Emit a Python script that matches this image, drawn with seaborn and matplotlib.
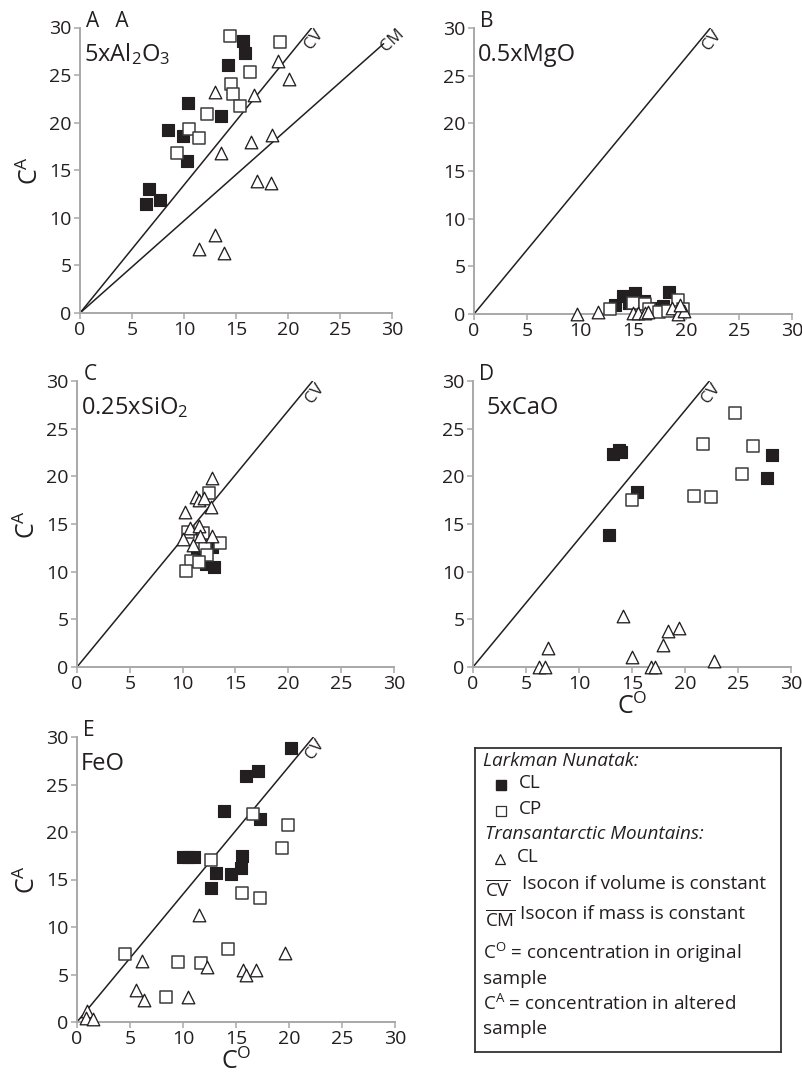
import numpy as np
import pandas as pd
import matplotlib
matplotlib.use("Agg")
import matplotlib.pyplot as plt
import seaborn as sns

# --- DATA ---
# Panel A : 5xAl2O3
A_LN_CL_x = [6.3, 6.6, 7.7, 8.5, 9.9, 10.4, 10.3, 13.6, 14.2, 15.7, 15.9]
A_LN_CL_y = [11.5, 13.0, 11.9, 19.2, 18.6, 22.1, 16.0, 20.7, 26.1, 28.6, 27.3]
A_LN_CP_x = [14.4, 19.2, 16.3, 14.5, 14.7, 15.4, 12.2, 10.5, 11.4, 9.3]
A_LN_CP_y = [29.1, 28.5, 25.3, 24.1, 23.0, 21.8, 20.9, 19.3, 18.4, 16.8]
A_TAM_CL_x = [13.0, 19.0, 20.1, 16.7, 13.6, 16.4, 18.5, 17.0, 18.4, 13.0, 11.4, 13.8]
A_TAM_CL_y = [23.2, 26.5, 24.6, 22.9, 16.8, 18.0, 18.7, 13.9, 13.7, 8.2, 6.75, 6.3]

# Panel B : 0.5xMgO
B_LN_CL_x = [13.3, 14.1, 14.6, 15.2, 16.0, 16.6, 17.8, 18.4]
B_LN_CL_y = [0.9, 1.9, 1.2, 2.2, 1.4, 0.6, 0.8, 2.3]
B_LN_CP_x = [12.8, 15.0, 16.1, 16.5, 17.5, 18.3, 19.2, 19.7]
B_LN_CP_y = [0.5, 1.2, 1.1, 0.5, 0.25, 0.3, 1.5, 0.5]
B_TAM_CL_x = [9.7, 11.7, 15.0, 15.5, 16.1, 16.4, 18.7, 19.2, 19.8, 19.4]
B_TAM_CL_y = [0.0, 0.2, 0.1, 0.1, 0.1, 0.2, 0.6, 0.0, 0.3, 0.9]

# Panel C : 0.25xSiO2
C_LN_CL_x = [11.4, 12.2, 13.0, 12.8, 12.0]
C_LN_CL_y = [11.9, 10.8, 10.5, 12.6, 11.4]
C_LN_CP_x = [12.5, 10.5, 11.9, 13.5, 12.15, 12.3, 10.75, 11.5, 10.3]
C_LN_CP_y = [18.25, 14.2, 14.1, 13.0, 12.65, 11.7, 11.1, 11.0, 10.05]
C_TAM_CL_x = [12.75, 11.3, 11.5, 12.0, 12.7, 10.2, 10.7, 11.5, 10.0, 11.6, 12.75, 10.95]
C_TAM_CL_y = [19.8, 17.8, 17.5, 17.7, 16.8, 16.3, 14.6, 14.8, 13.4, 13.7, 13.7, 12.8]

# Panel D : 5xCaO
D_LN_CL_x = [13.2, 13.75, 14.0, 15.5, 12.8, 28.2, 27.7]
D_LN_CL_y = [22.35, 22.8, 22.6, 18.4, 13.8, 22.2, 19.8]
D_LN_CP_x = [24.7, 21.7, 26.4, 25.35, 20.85, 22.5, 15.0]
D_LN_CP_y = [26.6, 23.4, 23.2, 20.25, 17.96, 17.8, 17.5]
D_TAM_CL_x = [14.15, 7.05, 6.2, 6.75, 15.0, 16.8, 17.2, 17.9, 18.4, 19.4, 22.7]
D_TAM_CL_y = [5.3, 1.95, 0.0, 0.0, 1.1, 0.0, 0.0, 2.35, 3.75, 4.1, 0.6]

# Panel E : FeO
E_LN_CL_x = [20.2, 15.9, 17.1, 13.85, 17.3, 10.0, 10.5, 11.0, 15.6, 15.5, 13.15, 14.5, 12.6]
E_LN_CL_y = [28.8, 25.9, 26.4, 22.25, 21.4, 17.4, 17.4, 17.4, 17.5, 16.25, 15.7, 15.6, 14.1]
E_LN_CP_x = [16.65, 19.9, 19.3, 12.6, 15.6, 17.3, 14.2, 4.5, 9.5, 11.7, 8.4]
E_LN_CP_y = [21.9, 20.7, 18.35, 17.1, 13.6, 13.1, 7.7, 7.2, 6.3, 6.2, 2.6]
E_TAM_CL_x = [11.5, 6.1, 12.3, 15.7, 15.9, 16.9, 19.6, 5.6, 6.3, 10.5, 0.9, 0.85, 1.5]
E_TAM_CL_y = [11.3, 6.4, 5.75, 5.5, 4.95, 5.5, 7.3, 3.4, 2.3, 2.6, 1.15, 0.45, 0.3]

# isocon slopes
CV_SLOPE = 30 / 22.3
CM_SLOPE = 28.3 / 29.2

TICKS = [0, 5, 10, 15, 20, 25, 30]

panels = [
    # key, letter, compound, (left px, bottom px, width px, height px), has CM
    ("A", "A   A", r"5xAl$_2$O$_3$", (80, 313, 312, 285.5), True,
     (A_LN_CL_x, A_LN_CL_y), (A_LN_CP_x, A_LN_CP_y), (A_TAM_CL_x, A_TAM_CL_y)),
    ("B", "B", "0.5xMgO", (474, 314, 318, 286), False,
     (B_LN_CL_x, B_LN_CL_y), (B_LN_CP_x, B_LN_CP_y), (B_TAM_CL_x, B_TAM_CL_y)),
    ("C", "C", r"0.25xSiO$_2$", (77, 667, 317, 286), False,
     (C_LN_CL_x, C_LN_CL_y), (C_LN_CP_x, C_LN_CP_y), (C_TAM_CL_x, C_TAM_CL_y)),
    ("D", "D", "5xCaO", (473, 667, 318, 286), False,
     (D_LN_CL_x, D_LN_CL_y), (D_LN_CP_x, D_LN_CP_y), (D_TAM_CL_x, D_TAM_CL_y)),
    ("E", "E", "FeO", (77, 1022, 318, 285), False,
     (E_LN_CL_x, E_LN_CL_y), (E_LN_CP_x, E_LN_CP_y), (E_TAM_CL_x, E_TAM_CL_y)),
]

# --- STYLE ---
sns.set_style("ticks")
plt.rcParams['font.family'] = ['Open Sans', 'DejaVu Sans']
plt.rcParams['mathtext.fontset'] = 'custom'
plt.rcParams['mathtext.rm'] = 'Open Sans'
plt.rcParams['mathtext.it'] = 'Open Sans:italic'
plt.rcParams['mathtext.bf'] = 'Open Sans:bold'

INK = '#231f20'
AXIS_GREY = '#a8a8a8'
W, H = 803, 1078

fig = plt.figure(figsize=(W / 100, H / 100), dpi=100)


def px_axes(left, bottom, width, height):
    return fig.add_axes([left / W, 1 - bottom / H, width / W, height / H])


for key, letter, compound, box, has_cm, ln_cl, ln_cp, tam_cl in panels:
    ax = px_axes(*box)
    ax.set_xlim(0, 30)
    ax.set_ylim(0, 30)

    # isocon lines
    xv = np.array([0, 30 / CV_SLOPE])
    sns.lineplot(x=xv, y=CV_SLOPE * xv, color=INK, lw=1.1, ax=ax)
    ax.text(xv[-1] + 0.2, 28.7, "CV", rotation=52, ha='center', va='center',
            fontsize=12, color=INK, clip_on=False)
    if has_cm:
        xm = np.array([0, 29.2])
        sns.lineplot(x=xm, y=CM_SLOPE * xm, color=INK, lw=1.1, ax=ax)
        ax.text(xm[-1] + 0.9, CM_SLOPE * xm[-1] + 0.3, "CM", rotation=43,
                ha='center', va='center', fontsize=12, color=INK, clip_on=False)

    sns.scatterplot(x=ln_cl[0], y=ln_cl[1], marker='s', s=78, color=INK,
                    edgecolor=INK, linewidth=0.8, ax=ax, clip_on=False, zorder=3)
    sns.scatterplot(x=ln_cp[0], y=ln_cp[1], marker='s', s=78, color='white',
                    edgecolor='#3c3c3c', linewidth=1.1, ax=ax, clip_on=False, zorder=4)
    sns.scatterplot(x=tam_cl[0], y=tam_cl[1], marker='^', s=82, color='white',
                    edgecolor=INK, linewidth=0.95, ax=ax, clip_on=False, zorder=5)

    ax.set_xticks(TICKS)
    ax.set_yticks(TICKS)
    ax.tick_params(direction='out', length=4, width=1.1, color=AXIS_GREY,
                   labelsize=14, labelcolor=INK, pad=2)
    for s in ['top', 'right']:
        ax.spines[s].set_visible(False)
    for s in ['left', 'bottom']:
        ax.spines[s].set_color(AXIS_GREY)
        ax.spines[s].set_linewidth(1.4)

    ax.text(0.6, 30.1, letter, fontsize=15, color=INK, va='baseline', ha='left', clip_on=False)
    ax.text(0.4 if key != "D" else 1.3, 26.5, compound, fontsize=17, color=INK,
            va='baseline', ha='left')

    ax.set_xlabel("")
    ax.set_ylabel("")
    if key in ("A", "C", "E"):
        ax.set_ylabel(r"C$^{\mathrm{A}}$", fontsize=18, color=INK, labelpad=4)
    if key in ("D", "E"):
        ax.set_xlabel(r"C$^{\mathrm{O}}$", fontsize=18, color=INK, labelpad=0)

# --- LEGEND BOX ---
leg = px_axes(475, 1052, 306, 304)
leg.set_xlim(475, 781)
leg.set_ylim(1052, 748)
leg.set_xticks([])
leg.set_yticks([])
for s in leg.spines.values():
    s.set_color('#333333')
    s.set_linewidth(1.3)

FS = 13.6
leg.text(483, 761, "Larkman Nunatak:", style='italic', fontsize=FS, va='center', color=INK)
leg.plot([501], [785], marker='s', ms=6.5, color=INK, ls='none')
leg.text(519, 783, "CL", fontsize=FS, va='center', color=INK)
leg.plot([501], [811], marker='s', ms=6.5, mfc='white', mec='#333333', mew=0.9, ls='none')
leg.text(519, 809, "CP", fontsize=FS, va='center', color=INK)
leg.text(485, 834, "Transantarctic Mountains:", style='italic', fontsize=FS, va='center', color=INK)
leg.plot([500], [859], marker='^', ms=7, mfc='white', mec=INK, mew=0.9, ls='none')
leg.text(517, 857, "CL", fontsize=FS, va='center', color=INK)
leg.text(485, 890, r"$\overline{\mathrm{CV}}$", fontsize=FS, va='center', color=INK)
leg.text(522, 884, "Isocon if volume is constant", fontsize=FS, va='center', color=INK)
leg.text(485, 920, r"$\overline{\mathrm{CM}}$", fontsize=FS, va='center', color=INK)
leg.text(520, 914, "Isocon if mass is constant", fontsize=FS, va='center', color=INK)
leg.text(483, 953, r"C$^{\mathrm{O}}$ = concentration in original", fontsize=FS, va='center', color=INK)
leg.text(483, 979, "sample", fontsize=FS, va='center', color=INK)
leg.text(483, 1004, r"C$^{\mathrm{A}}$ = concentration in altered", fontsize=FS, va='center', color=INK)
leg.text(483, 1029, "sample", fontsize=FS, va='center', color=INK)

fig.savefig("out.png", dpi=100)
